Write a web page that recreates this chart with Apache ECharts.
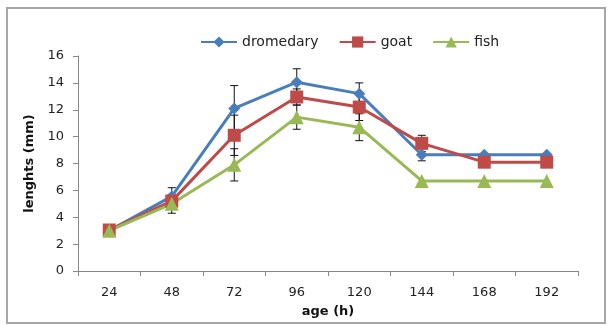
<!DOCTYPE html>
<html>
<head>
<meta charset="utf-8">
<script src="https://cdn.jsdelivr.net/npm/echarts@6/dist/echarts.min.js"></script>
<style>
html,body{margin:0;padding:0;background:#fff;}
#c{width:611px;height:326px;}
</style>
</head>
<body>
<div id="c"></div>
<script>
const categories = ['24', '48', '72', '96', '120', '144', '168', '192'];
const dromedary = [3.0, 5.55, 12.1, 14.05, 13.2, 8.65, 8.65, 8.65];
const goat = [3.05, 5.2, 10.1, 12.95, 12.2, 9.5, 8.1, 8.1];
const fish = [3.0, 5.0, 7.9, 11.45, 10.7, 6.7, 6.7, 6.7];
const dromedaryErr = [0, 0.65, 1.7, 1.0, 0.8, 0.45, 0, 0];
const goatErr = [0, 0.3, 1.5, 0.6, 1.0, 0.6, 0.4, 0];
const fishErr = [0, 0.7, 1.2, 0.9, 1.0, 0, 0, 0];
const yTicks = {min: 0, max: 16, interval: 2};

const colors = {dromedary: '#4A7EBB', goat: '#BE4B48', fish: '#98B954'};
const fontFamily = 'DejaVu Sans';

function errSeries(name, vals, errs) {
  const data = vals.map((v, i) => [i, v, errs[i]]);
  return {
    type: 'custom',
    name: name + '_err',
    z: 1,
    silent: true,
    data: data,
    renderItem: function (params, api) {
      const i = api.value(0), v = api.value(1), e = api.value(2);
      if (!e) return null;
      const top = api.coord([i, v + e]);
      const bot = api.coord([i, v - e]);
      const w = 4;
      const style = {stroke: '#111', lineWidth: 1};
      return {
        type: 'group',
        children: [
          {type: 'line', shape: {x1: top[0], y1: top[1], x2: bot[0], y2: bot[1]}, style: style},
          {type: 'line', shape: {x1: top[0] - w, y1: top[1], x2: top[0] + w, y2: top[1]}, style: style},
          {type: 'line', shape: {x1: bot[0] - w, y1: bot[1], x2: bot[0] + w, y2: bot[1]}, style: style}
        ]
      };
    }
  };
}

function lineSeries(name, vals, symbol, size, color) {
  return {
    type: 'line',
    name: name,
    data: vals,
    z: 3,
    symbol: symbol,
    symbolSize: size,
    lineStyle: {color: color, width: 3},
    itemStyle: {color: color, borderWidth: 0},
    emphasis: {disabled: true}
  };
}

const chart = echarts.init(document.getElementById('c'));
chart.setOption({
  animation: false,
  backgroundColor: '#fff',
  graphic: [{
    type: 'rect',
    shape: {x: 7, y: 8, width: 598, height: 315},
    style: {fill: 'none', stroke: '#a6a6a6', lineWidth: 2},
    z: -10
  }],
  legend: {
    left: 200,
    top: 35,
    padding: 0,
    itemWidth: 36,
    itemHeight: 14,
    itemGap: 20,
    textStyle: {fontFamily: fontFamily, fontSize: 14, color: '#222'},
    data: ['dromedary', 'goat', 'fish']
  },
  grid: {left: 78, right: 33, top: 56, bottom: 55},
  xAxis: {
    type: 'category',
    data: categories,
    boundaryGap: true,
    name: 'age (h)',
    nameLocation: 'middle',
    nameGap: 34,
    nameTextStyle: {fontFamily: fontFamily, fontSize: 13, fontWeight: 'bold', color: '#111'},
    axisLine: {lineStyle: {color: '#888', width: 1}},
    axisTick: {show: true, length: 5, lineStyle: {color: '#888'}},
    axisLabel: {fontFamily: fontFamily, fontSize: 13, color: '#222', margin: 15}
  },
  yAxis: {
    type: 'value',
    min: yTicks.min,
    max: yTicks.max,
    interval: yTicks.interval,
    name: 'lenghts (mm)',
    nameLocation: 'middle',
    nameGap: 38,
    nameTextStyle: {fontFamily: fontFamily, fontSize: 13, fontWeight: 'bold', color: '#111'},
    splitLine: {show: false},
    axisLine: {show: true, lineStyle: {color: '#888', width: 1}},
    axisTick: {show: true, length: 5, lineStyle: {color: '#888'}},
    axisLabel: {fontFamily: fontFamily, fontSize: 13, color: '#222', margin: 14}
  },
  series: [
    errSeries('dromedary', dromedary, dromedaryErr),
    errSeries('goat', goat, goatErr),
    errSeries('fish', fish, fishErr),
    lineSeries('dromedary', dromedary, 'diamond', 12, colors.dromedary),
    lineSeries('goat', goat, 'rect', 13, colors.goat),
    lineSeries('fish', fish, 'triangle', 14, colors.fish)
  ]
});
</script>
</body>
</html>
